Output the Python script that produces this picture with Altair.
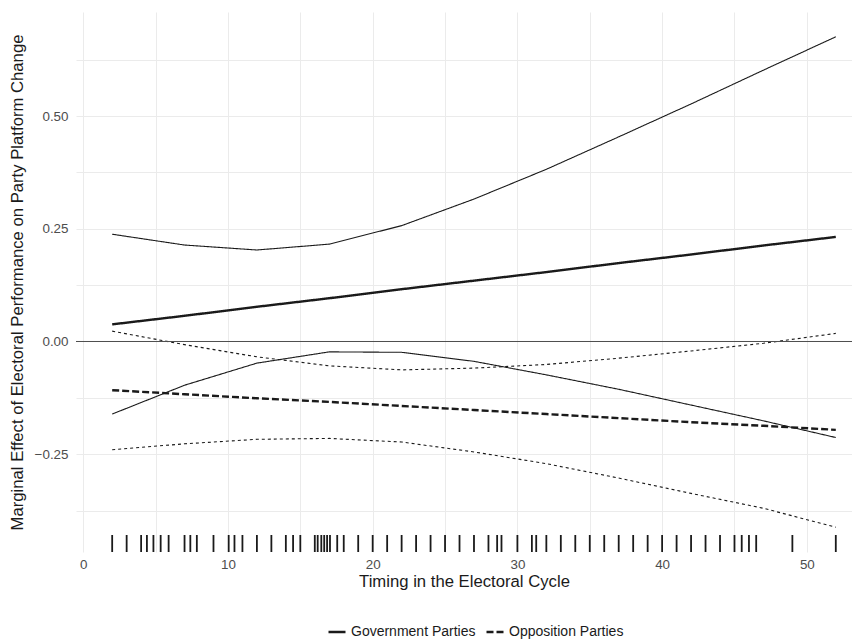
import altair as alt
import pandas as pd

# ---- data ----
x_pts = [2, 7, 12, 17, 22, 27, 32, 37, 42, 47, 52]
gov_est = [0.038, 0.057, 0.077, 0.096, 0.116, 0.135, 0.154, 0.174, 0.193, 0.213, 0.232]
gov_hi = [0.238, 0.214, 0.203, 0.216, 0.257, 0.316, 0.382, 0.454, 0.527, 0.602, 0.676]
gov_lo = [-0.161, -0.097, -0.048, -0.023, -0.024, -0.044, -0.074, -0.106, -0.141, -0.176, -0.213]
opp_est = [-0.108, -0.117, -0.126, -0.134, -0.143, -0.152, -0.161, -0.170, -0.179, -0.187, -0.196]
opp_hi = [0.023, -0.007, -0.034, -0.054, -0.063, -0.059, -0.051, -0.037, -0.021, -0.004, 0.018]
opp_lo = [-0.240, -0.227, -0.217, -0.215, -0.223, -0.245, -0.271, -0.303, -0.337, -0.370, -0.412]

rug_x = [2, 3, 4, 4.4, 4.85, 5.35, 5.9, 7, 7.4, 7.85, 9, 10.05, 10.45, 11, 12, 13, 14,
         14.5, 15, 16, 16.2, 16.45, 16.65, 16.85, 17.05, 17.55, 18, 19, 20, 21, 22, 23,
         24, 25, 26, 27, 28, 28.6, 28.9, 30, 31, 31.3, 32, 33, 34, 35, 36, 37, 38, 39,
         40, 41, 42, 43, 44, 45, 45.5, 46, 46.5, 49, 52]

parties = ["Government Parties", "Opposition Parties"]

est_rows = []
ci_rows = []
for i, x in enumerate(x_pts):
    est_rows.append({"x": x, "y": gov_est[i], "party": parties[0]})
    est_rows.append({"x": x, "y": opp_est[i], "party": parties[1]})
    ci_rows.append({"x": x, "y": gov_hi[i], "party": parties[0], "series": "gov_hi"})
    ci_rows.append({"x": x, "y": gov_lo[i], "party": parties[0], "series": "gov_lo"})
    ci_rows.append({"x": x, "y": opp_hi[i], "party": parties[1], "series": "opp_hi"})
    ci_rows.append({"x": x, "y": opp_lo[i], "party": parties[1], "series": "opp_lo"})
est_df = pd.DataFrame(est_rows)
ci_df = pd.DataFrame(ci_rows)
rug_df = pd.DataFrame({"x": rug_x})
zero_df = pd.DataFrame({"y": [0.0]})

W, H = 776, 540
FONT = "Liberation Sans"
INK = "#1a1a1a"

xscale = alt.Scale(domain=[-0.5, 53.12], nice=False, zero=False)
yscale = alt.Scale(domain=[-0.467, 0.731], nice=False, zero=False)

x_axis = alt.Axis(
    title="Timing in the Electoral Cycle",
    values=[0, 5, 10, 15, 20, 25, 30, 35, 40, 45, 50],
    labelExpr="datum.value % 10 == 0 ? format(datum.value, 'd') : ''",
    labelPadding=5, titlePadding=3,
)
y_axis = alt.Axis(
    title="Marginal Effect of Electoral Performance on Party Platform Change",
    values=[-0.375, -0.25, -0.125, 0, 0.125, 0.25, 0.375, 0.5, 0.625],
    labelExpr="(datum.value * 100) % 25 == 0 ? (datum.value < 0 ? '\u2212' + format(-datum.value, '.2f') : format(datum.value, '.2f')) : ''",
    labelPadding=8, titlePadding=8,
)

ci = alt.Chart(ci_df).mark_line(strokeWidth=1.1, color=INK).encode(
    x=alt.X("x:Q", scale=xscale, axis=x_axis),
    y=alt.Y("y:Q", scale=yscale, axis=y_axis),
    detail="series:N",
    strokeDash=alt.StrokeDash("party:N", scale=alt.Scale(domain=parties, range=[[1, 0], [3, 3]]), legend=None),
)

est = alt.Chart(est_df).mark_line(strokeWidth=2.4, color=INK).encode(
    x=alt.X("x:Q", scale=xscale),
    y=alt.Y("y:Q", scale=yscale),
    strokeDash=alt.StrokeDash(
        "party:N",
        scale=alt.Scale(domain=parties, range=[[1, 0], [7, 3]]),
        legend=alt.Legend(
            title=None, orient="none", direction="horizontal",
            legendX=251, legendY=610,
            symbolType="stroke", symbolStrokeWidth=2.4, symbolSize=289,
            symbolStrokeColor=INK, labelFontSize=14, labelFont=FONT,
            labelColor=INK, labelOffset=4, columnPadding=5,
        ),
    ),
)

zero = alt.Chart(zero_df).mark_rule(color="#4d4d4d", strokeWidth=1).encode(
    y=alt.Y("y:Q", scale=yscale)
)

rug = alt.Chart(rug_df).mark_rule(color=INK, strokeWidth=1.8).encode(
    x=alt.X("x:Q", scale=xscale),
    y=alt.value(H - 17),
    y2=alt.value(H),
)

chart = alt.layer(ci, zero, est, rug).resolve_scale(strokeDash="independent").properties(
    width=W, height=H,
    autosize=alt.AutoSizeParams(type="none"),
    padding={"left": 68, "top": 4, "right": 0, "bottom": 92},
).configure_view(stroke=None).configure_axis(
    domain=False, ticks=False, grid=True, gridColor="#ebebeb", gridWidth=1,
    labelFont=FONT, labelFontSize=13.4, labelColor="#4d4d4d",
    titleFont=FONT, titleFontSize=16.7, titleColor=INK, titleFontWeight="normal",
)

chart.save("out.html", embed_options={"renderer": "svg", "actions": False})
